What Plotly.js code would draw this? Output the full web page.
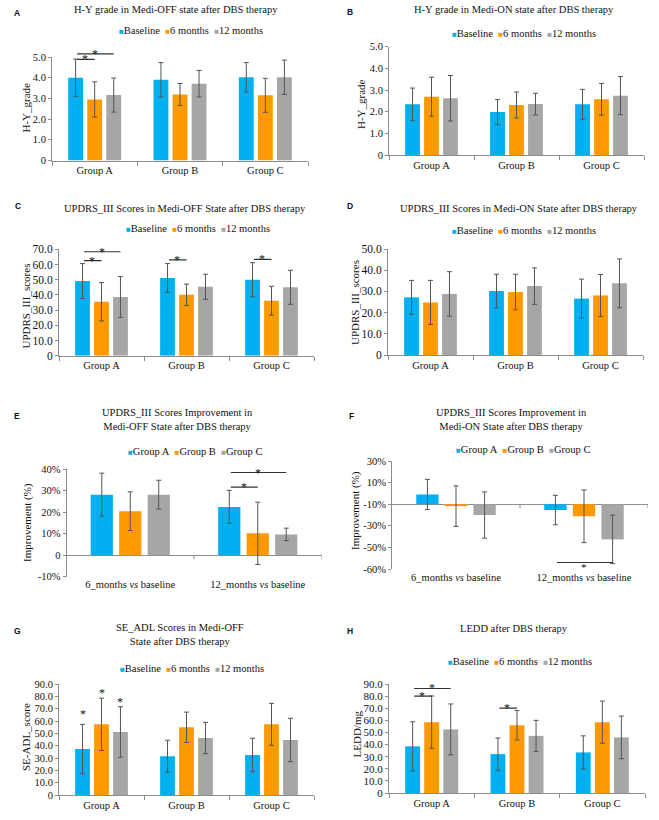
<!DOCTYPE html>
<html>
<head>
<meta charset="utf-8">
<script src="https://cdn.plot.ly/plotly-3.0.1.min.js"></script>
<style>html,body{margin:0;padding:0;background:#fff;}#chart{width:659px;height:820px;}</style>
</head>
<body>
<div id="chart"></div>
<script>
// ---------- DATA ----------
const groups = ['Group A', 'Group B', 'Group C'];
const timepoints = ['Baseline', '6 months', '12 months'];
const comparisons = ['6_months <i>vs</i> baseline', '12_months <i>vs</i> baseline'];

// A: H-Y grade, Medi-OFF (rows = timepoints, cols = groups)
const hyOffMean = [[4.0, 3.9, 4.02], [2.95, 3.19, 3.15], [3.16, 3.71, 4.02]];
const hyOffErr  = [[0.9, 0.83, 0.71], [0.85, 0.53, 0.82], [0.82, 0.64, 0.83]];
// B: H-Y grade, Medi-ON
const hyOnMean = [[2.34, 1.98, 2.34], [2.69, 2.31, 2.57], [2.62, 2.35, 2.74]];
const hyOnErr  = [[0.75, 0.58, 0.69], [0.9, 0.6, 0.73], [1.05, 0.5, 0.88]];
// C: UPDRS_III, Medi-OFF
const updrsOffMean = [[49.1, 51.1, 50.0], [35.5, 40.1, 36.2], [38.6, 45.4, 45.0]];
const updrsOffErr  = [[11.5, 9.5, 11.2], [12.6, 7.0, 9.5], [13.4, 8.2, 11.2]];
// D: UPDRS_III, Medi-ON
const updrsOnMean = [[27.2, 30.2, 26.6], [24.8, 29.7, 28.1], [28.8, 32.5, 33.8]];
const updrsOnErr  = [[8.0, 7.9, 9.2], [10.4, 8.4, 9.9], [10.5, 8.6, 11.5]];
// E: improvement, Medi-OFF (rows = groups, cols = comparisons)
const imprOffMean = [[28.2, 22.5], [20.5, 10.2], [28.2, 9.7]];
const imprOffErr  = [[10.0, 7.7], [9.0, 14.5], [6.7, 2.9]];
// F: improvement, Medi-ON (axis units as drawn)
const imprOnMean = [[4.5, -2.7], [-0.9, -5.6], [-5.0, -16.3]];
const imprOnErr  = [[7.0, 6.8], [9.4, 12.2], [10.7, 11.2]];
// G: SE-ADL
const adlMean = [[37.3, 31.4, 32.4], [57.3, 54.9, 57.3], [51.1, 46.2, 44.6]];
const adlErr  = [[20.0, 13.0, 13.6], [21.2, 12.3, 17.0], [20.5, 12.7, 17.6]];
// H: LEDD
const leddMean = [[38.5, 32.1, 33.5], [58.5, 56.0, 58.5], [52.5, 47.2, 45.9]];
const leddErr  = [[20.3, 13.3, 13.7], [21.6, 12.2, 17.4], [21.0, 12.8, 17.6]];

// tick labels
const hyTickVals = [0, 1, 2, 3, 4, 5];
const hyTickText = ['0', '1.0', '2.0', '3.0', '4.0', '5.0'];
const upOffTickVals = [0, 10, 20, 30, 40, 50, 60, 70];
const upOffTickText = ['0', '10.0', '20.0', '30.0', '40.0', '50.0', '60.0', '70.0'];
const upOnTickVals = [0, 10, 20, 30, 40, 50];
const upOnTickText = ['0', '10.0', '20.0', '30.0', '40.0', '50.0'];
const imOffTickVals = [-10, 0, 10, 20, 30, 40];
const imOffTickText = ['-10%', '0', '10%', '20%', '30%', '40%'];
const imOnTickVals = [-30, -20, -10, 0, 10, 20];
const imOnTickText = ['-60%', '-50%', '-30%', '-10%', '10%', '30%'];
const ninetyTickVals = [0, 10, 20, 30, 40, 50, 60, 70, 80, 90];
const ninetyTickText = ['0', '10.0', '20.0', '30.0', '40.0', '50.0', '60.0', '70.0', '80.0', '90.0'];

// significance brackets: [category, fromBar, toBar, y]
const sigA = [[0, 0, 1, 4.89], [0, 0, 2, 5.15]];
const sigC = [[0, 0, 1, 62.5], [0, 0, 2, 68.4], [1, 0, 1, 63.0], [2, 0, 1, 63.4]];
const sigE = [[1, 0, 1, 31.7], [1, 0, 2, 38.5]];
const sigF = [[1, 0, 2, -27.0]];
const sigH = [[0, 0, 1, 80.0], [0, 0, 2, 86.3], [1, 0, 1, 70.1]];
// single stars: [category, bar, y]
const starsG = [[0, 0, 65.5], [0, 1, 83.0], [0, 2, 75.5]];

// ---------- STYLE ----------
const COLORS = ['#00B0F0', '#FF9900', '#A6A6A6'];
const AXC = '#8c8c8c';
const W = 659, H = 820;
const BARGAP = 0.33;
const SERIF = 'Liberation Serif, Times New Roman, serif';
const px = v => v / W;
const py = v => 1 - v / H;
const barOff = b => (b - 1) * (1 - BARGAP) / 3;

const panels = [
  {letter: 'A', lp: [17, 13], title: 'H-Y grade in Medi-OFF state after DBS therapy', tp: [176, 9],
   legp: [191, 30], ytitle: 'H-Y_grade', ytp: [25.5, 108], cats: groups, names: timepoints, mean: hyOffMean, err: hyOffErr,
   dx: [52, 308], dy: [57, 160.5], range: [0, 5], tv: hyTickVals, tt: hyTickText, tfs: 10.5, sig: sigA},
  {letter: 'B', lp: [350, 12], title: 'H-Y grade in Medi-ON state after DBS therapy', tp: [514, 9],
   legp: [524, 33], ytitle: 'H-Y_grade', ytp: [361, 104], cats: groups, names: timepoints, mean: hyOnMean, err: hyOnErr,
   dx: [389, 644], dy: [46.7, 155], range: [0, 5], tv: hyTickVals, tt: hyTickText, tfs: 10.5, sig: []},
  {letter: 'C', lp: [18, 206], title: 'UPDRS_III Scores in Medi-OFF State after DBS therapy', tp: [185, 208],
   legp: [198, 228], ytitle: 'UPDRS_III_scores', ytp: [25.5, 306], cats: groups, names: timepoints, mean: updrsOffMean, err: updrsOffErr,
   dx: [59, 314], dy: [249.3, 355.7], range: [0, 70], tv: upOffTickVals, tt: upOffTickText, tfs: 11.5, sig: sigC},
  {letter: 'D', lp: [350, 206], title: 'UPDRS_III Scores in Medi-ON State after DBS therapy', tp: [519, 208],
   legp: [524, 230], ytitle: 'UPDRS_III_scores', ytp: [355, 303], cats: groups, names: timepoints, mean: updrsOnMean, err: updrsOnErr,
   dx: [388, 643], dy: [249, 355], range: [0, 50], tv: upOnTickVals, tt: upOnTickText, tfs: 11.5, sig: []},
  {letter: 'E', lp: [17, 416], title: 'UPDRS_III Scores Improvement in<br>Medi-OFF State after DBS therapy', tp: [178, 419],
   legp: [195, 451], ytitle: 'Improvement (%)', ytp: [27, 523], cats: comparisons, names: groups, mean: imprOffMean, err: imprOffErr,
   dx: [66.5, 321.5], dy: [469.3, 576.7], range: [-10, 40], tv: imOffTickVals, tt: imOffTickText, tfs: 10.5, sig: sigE, zero: true},
  {letter: 'F', lp: [351, 416], title: 'UPDRS_III Scores Improvement in<br>Medi-ON State after DBS therapy', tp: [511, 419],
   legp: [523, 449], ytitle: 'Improvement (%)', ytp: [355, 511], cats: comparisons, names: groups, mean: imprOnMean, err: imprOnErr,
   dx: [392, 648], dy: [461, 569], range: [-30, 20], tv: imOnTickVals, tt: imOnTickText, tfs: 10.5, sig: sigF, zero: true, starBelow: true},
  {letter: 'G', lp: [17, 631], title: 'SE_ADL Scores in Medi-OFF<br>State after DBS therapy', tp: [180, 634.5],
   legp: [192, 668], ytitle: 'SE-ADL_score', ytp: [26, 737], cats: groups, names: timepoints, mean: adlMean, err: adlErr,
   dx: [59, 314], dy: [684, 795], range: [0, 90], tv: ninetyTickVals, tt: ninetyTickText, tfs: 10.5, sig: [], stars: starsG},
  {letter: 'H', lp: [350, 631], title: 'LEDD after DBS therapy', tp: [514, 628],
   legp: [520, 661], ytitle: 'LEDD/mg', ytp: [356.5, 734], cats: groups, names: timepoints, mean: leddMean, err: leddErr,
   dx: [389, 645], dy: [684, 793], range: [0, 90], tv: ninetyTickVals, tt: ninetyTickText, tfs: 11, sig: sigH}
];

const data = [];
const layout = {
  width: W, height: H, margin: {l: 0, r: 0, t: 0, b: 0},
  paper_bgcolor: '#fff', plot_bgcolor: 'rgba(0,0,0,0)',
  showlegend: false, barmode: 'group', bargap: BARGAP, bargroupgap: 0.22,
  font: {family: SERIF, color: '#111', size: 10.5},
  annotations: [], shapes: []
};

panels.forEach((p, i) => {
  const n = i + 1;
  const xa = 'x' + (n === 1 ? '' : n), ya = 'y' + (n === 1 ? '' : n);
  const xk = 'xaxis' + (n === 1 ? '' : n), yk = 'yaxis' + (n === 1 ? '' : n);
  const frac = v => (v - p.range[0]) / (p.range[1] - p.range[0]);
  p.names.forEach((nm, s) => {
    data.push({
      type: 'bar', name: nm, x: p.cats, y: p.mean[s], xaxis: xa, yaxis: ya,
      marker: {color: COLORS[s], line: {width: 0}},
      error_y: {type: 'data', array: p.err[s], visible: true, color: '#555', thickness: 1, width: 2.5},
      hoverinfo: 'skip', cliponaxis: false
    });
  });
  layout[xk] = {
    type: 'category', domain: [px(p.dx[0]), px(p.dx[1])], anchor: ya,
    range: [-0.5, p.cats.length - 0.5], fixedrange: true,
    showline: !p.zero, linecolor: AXC, linewidth: 1,
    ticks: p.zero ? '' : 'outside', tickson: 'boundaries', ticklen: 4, tickcolor: AXC,
    tickfont: {size: 10.5, family: SERIF, color: '#111'}, showgrid: false, zeroline: false
  };
  layout[yk] = {
    domain: [py(p.dy[1]), py(p.dy[0])], anchor: xa, range: p.range, fixedrange: true,
    tickvals: p.tv, ticktext: p.tt, tickfont: {size: p.tfs, family: SERIF, color: '#111'},
    showline: true, linecolor: AXC, linewidth: 1, ticks: 'outside', ticklen: 3, tickcolor: AXC,
    showgrid: false, zeroline: !!p.zero, zerolinecolor: AXC, zerolinewidth: 1
  };
  if (p.zero) {
    for (let k = 0; k < p.cats.length; k++) {
      layout.shapes.push({type: 'line', xref: xa, yref: ya, x0: k + 0.5, x1: k + 0.5,
        ysizemode: 'pixel', yanchor: 0, y0: 0, y1: -4, line: {color: AXC, width: 1}});
    }
  }
  // y-axis title
  layout.annotations.push({text: p.ytitle, xref: 'paper', yref: 'paper', textangle: -90,
    x: px(p.ytp[0]), y: py(p.ytp[1]), xanchor: 'center', yanchor: 'middle', showarrow: false,
    font: {family: SERIF, size: 11, color: '#111'}});
  // panel letter
  layout.annotations.push({text: '<b>' + p.letter + '</b>', xref: 'paper', yref: 'paper',
    x: px(p.lp[0]), y: py(p.lp[1]), xanchor: 'center', yanchor: 'middle', showarrow: false,
    font: {family: 'Liberation Sans, Arial, sans-serif', size: 8.5, color: '#111'}});
  // title
  layout.annotations.push({text: p.title, xref: 'paper', yref: 'paper',
    x: px(p.tp[0]), y: py(p.tp[1]), xanchor: 'center', yanchor: 'middle', showarrow: false,
    font: {family: SERIF, size: 10.5, color: '#111'}});
  // legend (built from the series names)
  const legText = p.names.map((nm, s) =>
    '<span style="color:' + COLORS[s] + ';font-size:8px">\u25A0</span>' + nm).join('\u00a0\u00a0');
  layout.annotations.push({text: legText, xref: 'paper', yref: 'paper',
    x: px(p.legp[0]), y: py(p.legp[1]), xanchor: 'center', yanchor: 'middle', showarrow: false,
    font: {family: SERIF, size: 10.5, color: '#111'}});
  // significance brackets (x on the category axis, y as a fraction of the y-axis domain)
  p.sig.forEach(sg => {
    const x0 = sg[0] + barOff(sg[1]), x1 = sg[0] + barOff(sg[2]);
    layout.annotations.push({text: '', xref: xa, yref: ya + ' domain', axref: xa, ayref: 'pixel',
      x: x1, y: frac(sg[3]), ax: x0, ay: 0, showarrow: true, arrowhead: 0, arrowwidth: 1.2,
      arrowcolor: '#333', standoff: 0, startstandoff: 0});
    layout.annotations.push({text: '*', xref: xa, yref: ya + ' domain', x: (x0 + x1) / 2, y: frac(sg[3]),
      xanchor: 'center', yanchor: 'middle', showarrow: false, yshift: p.starBelow ? -4.5 : 0,
      font: {family: SERIF, size: p.starBelow ? 11 : 12, color: '#111'}});
  });
  (p.stars || []).forEach(st => {
    layout.annotations.push({text: '*', xref: xa, yref: ya + ' domain', x: st[0] + barOff(st[1]), y: frac(st[2]),
      xanchor: 'center', yanchor: 'middle', showarrow: false,
      font: {family: SERIF, size: 12, color: '#111'}});
  });
});

Plotly.newPlot('chart', data, layout, {staticPlot: true, displayModeBar: false});
</script>
</body>
</html>
